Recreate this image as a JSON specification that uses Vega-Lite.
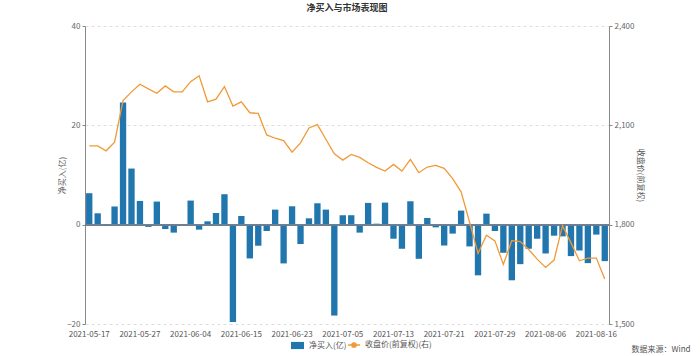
{
  "$schema": "https://vega.github.io/schema/vega-lite/v6.json",
  "width": 524,
  "height": 298,
  "autosize": {"type": "none"},
  "padding": {"left": 85, "top": 26, "right": 91, "bottom": 32},
  "config": {
    "font": "Noto Sans CJK SC",
    "view": {"stroke": null},
    "axis": {"labelFont": "Noto Sans CJK SC", "titleFont": "Noto Sans CJK SC"},
    "legend": {"labelFont": "Noto Sans CJK SC"}
  },
  "title": {"text": "净买入与市场表现图", "fontSize": 9, "fontWeight": "bold", "color": "#333333", "offset": 9, "anchor": "middle"},
  "data": {"values": [
    {"date": "2021-05-17", "net": 6.33, "close": 2038},
    {"date": "2021-05-20", "net": 2.29, "close": 2038},
    {"date": "2021-05-21", "net": -0.27, "close": 2023},
    {"date": "2021-05-24", "net": 3.64, "close": 2049},
    {"date": "2021-05-25", "net": 24.6, "close": 2175},
    {"date": "2021-05-26", "net": 11.3, "close": 2201},
    {"date": "2021-05-27", "net": 4.78, "close": 2224},
    {"date": "2021-05-28", "net": -0.45, "close": 2210},
    {"date": "2021-05-31", "net": 4.65, "close": 2197},
    {"date": "2021-06-01", "net": -0.88, "close": 2219},
    {"date": "2021-06-02", "net": -1.6, "close": 2201},
    {"date": "2021-06-03", "net": 0.1, "close": 2201},
    {"date": "2021-06-04", "net": 4.85, "close": 2232},
    {"date": "2021-06-07", "net": -1.0, "close": 2250},
    {"date": "2021-06-08", "net": 0.67, "close": 2171},
    {"date": "2021-06-09", "net": 2.36, "close": 2179},
    {"date": "2021-06-10", "net": 6.13, "close": 2217},
    {"date": "2021-06-11", "net": -19.6, "close": 2158},
    {"date": "2021-06-15", "net": 1.75, "close": 2171},
    {"date": "2021-06-16", "net": -6.8, "close": 2138},
    {"date": "2021-06-17", "net": -4.24, "close": 2136},
    {"date": "2021-06-18", "net": -1.28, "close": 2071},
    {"date": "2021-06-21", "net": 3.03, "close": 2061},
    {"date": "2021-06-22", "net": -7.8, "close": 2054},
    {"date": "2021-06-23", "net": 3.7, "close": 2019},
    {"date": "2021-06-24", "net": -3.9, "close": 2047},
    {"date": "2021-06-25", "net": 1.28, "close": 2092},
    {"date": "2021-06-28", "net": 4.31, "close": 2102},
    {"date": "2021-06-29", "net": 3.03, "close": 2058},
    {"date": "2021-07-02", "net": -18.3, "close": 2014},
    {"date": "2021-07-05", "net": 1.9, "close": 1995},
    {"date": "2021-07-06", "net": 1.9, "close": 2012},
    {"date": "2021-07-07", "net": -1.6, "close": 2003},
    {"date": "2021-07-08", "net": 4.38, "close": 1987},
    {"date": "2021-07-09", "net": 0.2, "close": 1973},
    {"date": "2021-07-12", "net": 4.44, "close": 1962},
    {"date": "2021-07-13", "net": -2.83, "close": 1982},
    {"date": "2021-07-14", "net": -4.85, "close": 1962},
    {"date": "2021-07-15", "net": 4.71, "close": 1997},
    {"date": "2021-07-16", "net": -6.87, "close": 1957},
    {"date": "2021-07-19", "net": 1.35, "close": 1974},
    {"date": "2021-07-20", "net": -0.54, "close": 1979},
    {"date": "2021-07-21", "net": -4.2, "close": 1970},
    {"date": "2021-07-22", "net": -1.8, "close": 1939},
    {"date": "2021-07-23", "net": 2.83, "close": 1899},
    {"date": "2021-07-26", "net": -4.38, "close": 1808},
    {"date": "2021-07-27", "net": -10.2, "close": 1713},
    {"date": "2021-07-28", "net": 2.22, "close": 1768},
    {"date": "2021-07-29", "net": -1.28, "close": 1751},
    {"date": "2021-07-30", "net": -5.66, "close": 1680},
    {"date": "2021-08-02", "net": -11.2, "close": 1752},
    {"date": "2021-08-03", "net": -7.95, "close": 1749},
    {"date": "2021-08-04", "net": -4.85, "close": 1725},
    {"date": "2021-08-05", "net": -2.83, "close": 1696},
    {"date": "2021-08-06", "net": -5.8, "close": 1671},
    {"date": "2021-08-09", "net": -2.22, "close": 1693},
    {"date": "2021-08-10", "net": -2.36, "close": 1797},
    {"date": "2021-08-11", "net": -6.33, "close": 1745},
    {"date": "2021-08-12", "net": -5.2, "close": 1691},
    {"date": "2021-08-13", "net": -7.74, "close": 1699},
    {"date": "2021-08-16", "net": -2.0, "close": 1699},
    {"date": "2021-08-17", "net": -7.34, "close": 1636}
  ]},
  "layer": [
    {
      "mark": {"type": "bar", "color": "#2176AE"},
      "encoding": {
        "x": {
          "field": "date", "type": "ordinal",
          "scale": {"paddingInner": 0.25, "paddingOuter": 0.125},
          "axis": {
            "orient": "bottom",
            "values": ["2021-05-17", "2021-05-27", "2021-06-04", "2021-06-15", "2021-06-23", "2021-07-05", "2021-07-13", "2021-07-21", "2021-07-29", "2021-08-06", "2021-08-16"],
            "labelAngle": 0, "domain": false, "ticks": false,
            "labelFontSize": 8, "labelColor": "#555555", "labelPadding": 6,
            "title": "数据来源：Wind", "titleFontSize": 8, "titleFontWeight": "normal", "titleColor": "#555555",
            "titleX": 605, "titleY": 25, "titleAlign": "right", "titleBaseline": "middle", "titleAnchor": null
          }
        },
        "y": {
          "field": "net", "type": "quantitative",
          "scale": {"domain": [-20, 40]},
          "axis": {
            "orient": "left", "values": [-20, 0, 20, 40],
            "domainColor": "#888888", "tickColor": "#888888", "tickSize": 3,
            "labelFontSize": 8, "labelColor": "#666666", "labelPadding": 2,
            "grid": true, "gridDash": [3, 3], "gridColor": "#dddddd",
            "title": "净买入(亿)", "titleFontSize": 8, "titleFontWeight": "normal", "titleColor": "#555555", "titlePadding": 0
          }
        },
        "fill": {
          "datum": "净买入(亿)",
          "scale": {"range": ["#2176AE"]},
          "legend": {
            "title": null, "orient": "none", "legendX": 205, "legendY": 312,
            "symbolType": "M-1,-0.55H1V0.55H-1Z", "symbolSize": 169,
            "labelFontSize": 8, "labelColor": "#555555"
          }
        }
      }
    },
    {
      "mark": {"type": "rule", "color": "#6f8294", "strokeWidth": 1},
      "encoding": {
        "y": {"datum": 0, "type": "quantitative", "scale": {"domain": [-20, 40]}, "axis": null}
      }
    },
    {
      "mark": {"type": "line", "color": "#F09A37", "strokeWidth": 1.3},
      "encoding": {
        "x": {"field": "date", "type": "ordinal", "scale": {"paddingInner": 0.25, "paddingOuter": 0.125}},
        "y": {
          "field": "close", "type": "quantitative",
          "scale": {"domain": [1500, 2400]},
          "axis": {
            "orient": "right", "values": [1500, 1800, 2100, 2400], "format": ",.0f",
            "domainColor": "#888888", "tickColor": "#888888", "tickSize": 3,
            "labelFontSize": 8, "labelColor": "#666666", "labelPadding": 2,
            "grid": false,
            "title": "收盘价(前复权)", "titleFontSize": 8, "titleFontWeight": "normal", "titleColor": "#555555", "titlePadding": 2
          }
        },
        "stroke": {
          "datum": "收盘价(前复权)(右)",
          "scale": {"range": ["#F09A37"]},
          "legend": {
            "title": null, "orient": "none", "legendX": 262, "legendY": 312,
            "symbolType": "M-1,0L-0.35,0M0.35,0L1,0M0.35,0A0.35,0.35,0,1,1,-0.35,0A0.35,0.35,0,1,1,0.35,0Z",
            "symbolSize": 144, "symbolStrokeWidth": 1.5, "symbolFillColor": "#F09A37",
            "labelFontSize": 8, "labelColor": "#555555"
          }
        }
      }
    }
  ],
  "resolve": {"scale": {"y": "independent", "fill": "independent", "stroke": "independent"}}
}
